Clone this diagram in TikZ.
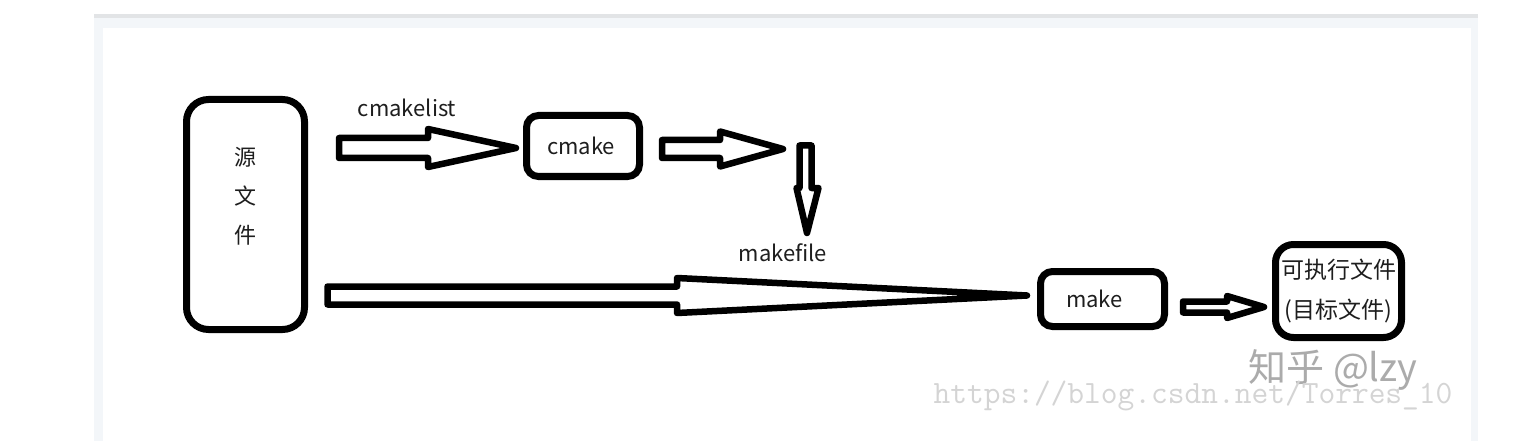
\documentclass[tikz,border=0pt]{standalone}
\usepackage{fontspec}
\setmainfont{Noto Sans CJK SC}
\usetikzlibrary{calc}
\definecolor{bandc}{HTML}{F3F6F9}
\definecolor{linec}{HTML}{E2E4E6}
\definecolor{txt}{HTML}{1E1E1E}
\definecolor{wm}{HTML}{ABABAB}
\definecolor{url}{HTML}{D4D4D4}
\tikzset{
  box/.style={draw=black, line width=7pt, rounded corners=#1, inner sep=0pt, text=txt},
  box/.default=12pt,
  blockarr/.style={draw=black, line width=6.5pt, line join=round, fill=white},
  lbl/.style={text=txt, inner sep=0pt, font=\fontsize{22pt}{24pt}\selectfont},
}
% #1 start, #2 tip, #3 shaft half, #4 head half, #5 head length
\newcommand\harrow[5]{%
  \draw[blockarr] let \p1=(#1), \p2=(#2) in
    (\x1,\y2+#3) -- (\x2-#5,\y2+#3) -- (\x2-#5,\y2+#4) -- (\x2,\y2)
    -- (\x2-#5,\y2-#4) -- (\x2-#5,\y2-#3) -- (\x1,\y2-#3) -- cycle;}
\begin{document}
\begin{tikzpicture}[x=1pt,y=-1pt]
\useasboundingbox (0,0) rectangle (1521,441);
% frame
\fill[linec] (94,14) rectangle (1478,18);
\fill[bandc] (94,18) rectangle (1478,441);
\fill[white] (103,28) rectangle (1471,441);
% boxes
\node[box=22pt, minimum width=118pt, minimum height=230pt] (src) at (245.5,214.5) {};
\node[lbl, font=\fontsize{22pt}{39pt}\selectfont, align=center] (srct) at (245,196) {源\\文\\件};
\node[box, minimum width=113pt, minimum height=61pt, font=\fontsize{22pt}{24pt}\selectfont] (cmake) at (583,146) {\hspace*{-4pt}cmake};
\node[box, minimum width=124pt, minimum height=55pt, font=\fontsize{22pt}{24pt}\selectfont] (make) at (1102.5,299) {\hspace*{-16pt}make};
\node[box=18pt, minimum width=126pt, minimum height=93pt, align=center,
      font=\fontsize{23pt}{40pt}\selectfont] (exe) at (1338.5,291) {可执行文件\\(目标文件)};
% labels
\node[lbl] (lcml) at (407,108) {cmakelist};
\node[lbl] (lmkf) at (783,253) {makefile};
% arrows
\coordinate (a1s) at ($(src.east)+(31,0)$);
\coordinate (a1t) at ($(cmake.west)+(-7,2)$);
\harrow{a1s}{a1t}{10pt}{19pt}{88pt}
\coordinate (a2s) at ($(cmake.east)+(19,0)$);
\coordinate (a2t) at (783,149);
\harrow{a2s}{a2t}{9pt}{17.5pt}{63pt}
\coordinate (a3t) at (807,233);
\draw[blockarr] (799.5,145.5) -- (811.5,145.5) -- (811.5,188) -- (818.5,188) -- (a3t)
  -- (796.5,188) -- (799.5,188) -- cycle;
\coordinate (a4s) at (327.5,295.5);
\coordinate (a4t) at ($(make.west)+(-10,-3.5)$);
\harrow{a4s}{a4t}{9pt}{17.5pt}{350pt}
\coordinate (a5s) at ($(make.east)+(15,0)$);
\coordinate (a5t) at ($(exe.west)+(-8,16)$);
\harrow{a5s}{a5t}{5.5pt}{11pt}{37pt}
% watermarks
\node[text=wm, inner sep=0pt, font=\fontsize{38pt}{40pt}\selectfont] (wm1) at (1333,370) {知乎 @lzy};
\node[text=url, inner sep=0pt, font=\ttfamily\fontsize{32.5pt}{34pt}\selectfont] (wm2) at (1193,396) {https://blog.csdn.net/Torres\_10};
\end{tikzpicture}
\end{document}
